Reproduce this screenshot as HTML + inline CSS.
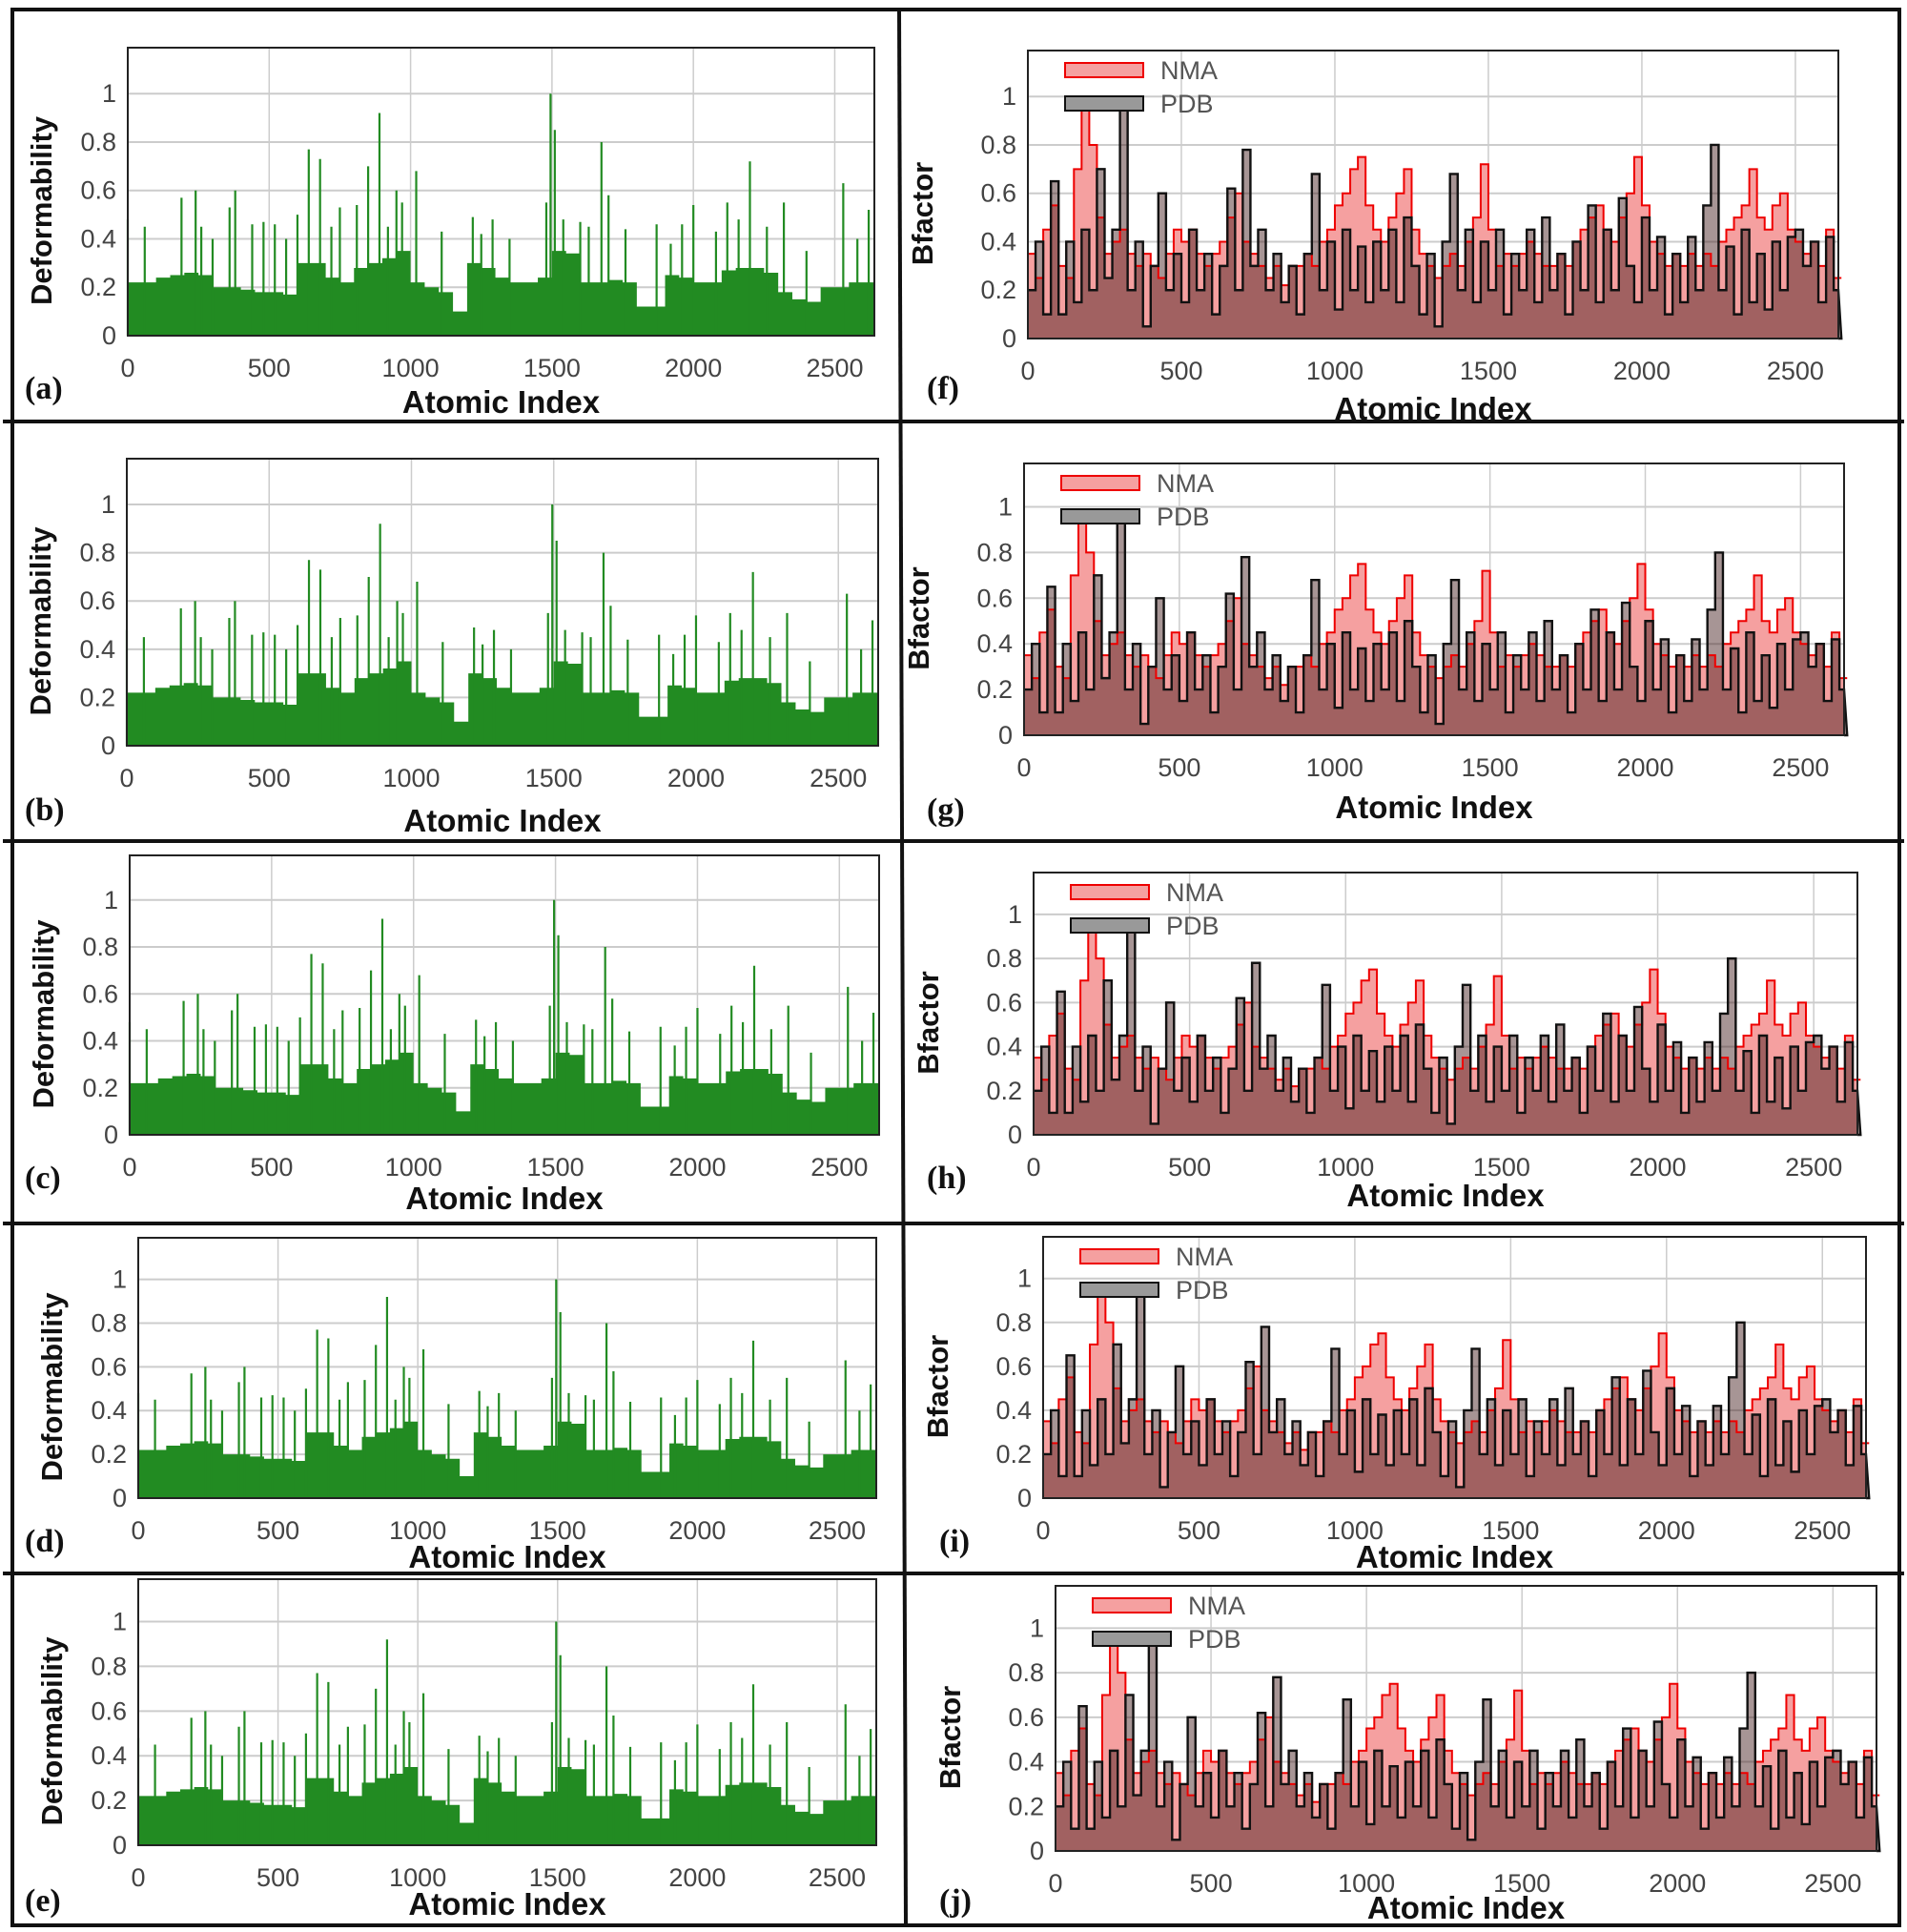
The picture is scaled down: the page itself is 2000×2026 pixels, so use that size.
<!DOCTYPE html>
<html><head><meta charset="utf-8"><style>
html,body{margin:0;padding:0;background:#fff;}
svg{display:block;}
</style></head><body>
<svg id="fig" width="2000" height="2026" viewBox="0 0 2000 2026" xmlns="http://www.w3.org/2000/svg"></svg>
<script>
// ---- data ----
const xTicks=[0,500,1000,1500,2000,2500];
const yTicks=[0,0.2,0.4,0.6,0.8,1];
const yTickLabels=["0","0.2","0.4","0.6","0.8","1"];
const deformBaseStep=50;
const deformBase=[0.22,0.22,0.24,0.25,0.26,0.25,0.2,0.2,0.19,0.18,0.18,0.17,0.3,0.3,0.24,0.22,0.28,0.3,0.32,0.35,0.22,0.2,0.18,0.1,0.3,0.28,0.24,0.22,0.22,0.24,0.35,0.34,0.22,0.22,0.23,0.22,0.12,0.12,0.25,0.24,0.22,0.22,0.27,0.28,0.28,0.26,0.18,0.15,0.14,0.2,0.2,0.22,0.22,0.22];
const spikeIdx=[0,60,190,240,260,300,360,380,440,480,520,560,600,640,680,720,750,810,850,890,920,950,970,1020,1110,1220,1250,1290,1350,1480,1495,1510,1540,1600,1630,1675,1700,1760,1870,1920,1960,2000,2080,2120,2160,2200,2260,2320,2400,2530,2580,2620];
const spikeVal=[0.48,0.45,0.57,0.6,0.45,0.4,0.53,0.6,0.46,0.47,0.46,0.4,0.5,0.77,0.73,0.45,0.53,0.54,0.7,0.92,0.45,0.6,0.55,0.68,0.43,0.49,0.42,0.48,0.4,0.55,1.0,0.85,0.48,0.47,0.45,0.8,0.58,0.44,0.46,0.38,0.46,0.54,0.43,0.55,0.48,0.72,0.45,0.55,0.35,0.63,0.4,0.52];
const bStep=25;
const nma=[0.35,0.25,0.45,0.55,0.3,0.25,0.7,0.95,0.8,0.5,0.35,0.4,0.45,0.35,0.3,0.35,0.3,0.25,0.35,0.45,0.4,0.45,0.35,0.3,0.35,0.4,0.5,0.6,0.4,0.35,0.3,0.25,0.3,0.22,0.3,0.3,0.35,0.3,0.4,0.45,0.55,0.6,0.7,0.75,0.55,0.45,0.4,0.5,0.6,0.7,0.45,0.35,0.3,0.25,0.3,0.35,0.3,0.4,0.5,0.72,0.45,0.3,0.35,0.3,0.35,0.4,0.35,0.3,0.3,0.35,0.3,0.4,0.45,0.5,0.55,0.45,0.4,0.5,0.6,0.75,0.55,0.4,0.35,0.3,0.35,0.3,0.35,0.3,0.35,0.3,0.4,0.45,0.5,0.55,0.7,0.5,0.45,0.55,0.6,0.45,0.4,0.35,0.4,0.3,0.45,0.25,0.25];
const pdb=[0.2,0.4,0.1,0.65,0.1,0.4,0.15,0.45,0.2,0.7,0.25,0.45,0.98,0.2,0.4,0.05,0.3,0.6,0.2,0.35,0.15,0.45,0.2,0.35,0.1,0.3,0.62,0.2,0.78,0.3,0.45,0.2,0.35,0.15,0.3,0.1,0.35,0.68,0.2,0.4,0.12,0.45,0.2,0.38,0.15,0.4,0.2,0.45,0.15,0.5,0.3,0.1,0.35,0.05,0.4,0.68,0.2,0.45,0.15,0.4,0.2,0.45,0.1,0.35,0.2,0.45,0.15,0.5,0.2,0.35,0.1,0.4,0.2,0.55,0.15,0.45,0.2,0.58,0.3,0.15,0.5,0.2,0.42,0.1,0.35,0.15,0.42,0.2,0.55,0.8,0.2,0.38,0.1,0.45,0.15,0.35,0.12,0.4,0.2,0.42,0.45,0.3,0.4,0.15,0.42,0.2,0.0];

// panel geometry
const leftPanels=[
 {id:"a",x0:134,x1:917,y0:50,y1:352,lx:26,ly:418,xt:433},
 {id:"b",x0:133,x1:921,y0:481,y1:782,lx:26,ly:860,xt:872},
 {id:"c",x0:136,x1:922,y0:897,y1:1190,lx:26,ly:1246,xt:1268},
 {id:"d",x0:145,x1:919,y0:1298,y1:1571,lx:26,ly:1627,xt:1644},
 {id:"e",x0:145,x1:919,y0:1656,y1:1935,lx:26,ly:2004,xt:2008}];
const rightPanels=[
 {id:"f",x0:1078,x1:1928,y0:53,y1:355,lx:972,ly:418,xt:440},
 {id:"g",x0:1074,x1:1934,y0:486,y1:771,lx:972,ly:860,xt:858},
 {id:"h",x0:1084,x1:1948,y0:915,y1:1190,lx:972,ly:1246,xt:1265},
 {id:"i",x0:1094,x1:1957,y0:1297,y1:1571,lx:985,ly:1627,xt:1644},
 {id:"j",x0:1107,x1:1968,y0:1663,y1:1941,lx:985,ly:2004,xt:2012}];
const XMAX=2640, YMAX=1.19;
const NS="http://www.w3.org/2000/svg";
const svg=document.getElementById('fig');
function el(tag,attrs,parent,text){const e=document.createElementNS(NS,tag);for(const k in attrs)e.setAttribute(k,attrs[k]);if(text!==undefined)e.textContent=text;(parent||svg).appendChild(e);return e;}

const frame=el('g',{},svg);


el('rect',{x:13,y:10,width:1979,height:2009,fill:'none',stroke:'#111','stroke-width':4},frame);
el('line',{x1:943,y1:10,x2:950,y2:2019,stroke:'#111','stroke-width':4},frame);
[442,882,1283,1650].forEach(y=>el('line',{x1:3,y1:y,x2:1997,y2:y,stroke:'#111','stroke-width':4},frame));

function axes(p,g,ylab,yoff){
  const sx=v=>p.x0+(p.x1-p.x0)*v/XMAX;
  const sy=v=>p.y1-(p.y1-p.y0)*v/YMAX;
  const grid=el('g',{},g);
  
  
  xTicks.forEach(t=>el('line',{x1:sx(t),x2:sx(t),y1:p.y0,y2:p.y1,stroke:'#ccc','stroke-width':1.5},grid));
  yTicks.forEach(t=>el('line',{x1:p.x0,x2:p.x1,y1:sy(t),y2:sy(t),stroke:'#ccc','stroke-width':2},grid));
  const xt=el('g',{'font-family':'Liberation Sans, sans-serif','font-size':27,fill:'#444','text-anchor':'middle'},g);
  
  
  xTicks.forEach(t=>el('text',{x:sx(t),y:p.y1+43},xt,String(t)));
  const yt=el('g',{'font-family':'Liberation Sans, sans-serif','font-size':27,fill:'#444','text-anchor':'end'},g);
  
  
  yTicks.forEach((t,i)=>el('text',{x:p.x0-12,y:sy(t)+9},yt,yTickLabels[i]));
  const xl=el('text',{x:(p.x0+p.x1)/2,y:p.xt,'font-family':'Liberation Sans, sans-serif','font-size':33,'font-weight':'bold','text-anchor':'middle',fill:'#111'},g,'Atomic Index');
  
  
  const cy=(p.y0+p.y1)/2+20, cx=p.x0-yoff;
  const yl=el('text',{x:cx,y:cy,transform:`rotate(-90 ${cx} ${cy})`,'font-family':'Liberation Sans, sans-serif','font-size':31,'font-weight':'bold','text-anchor':'middle',fill:'#111'},g,ylab);
  
  
  const pl=el('text',{x:p.lx,y:p.ly,'font-family':'Liberation Serif, serif','font-size':34,'font-weight':'bold',fill:'#111'},g,'('+p.id+')');
  
  
  return {sx,sy};
}

leftPanels.forEach(p=>{
  const g=el('g',{},svg);
  
  
  const {sx,sy}=axes(p,g,'Deformability',80);
  let d=`M${sx(0)},${sy(0)}`;
  deformBase.forEach((v,i)=>{const a=i*deformBaseStep,b=Math.min(XMAX,a+deformBaseStep);d+=`L${sx(a)},${sy(v)}L${sx(b)},${sy(v)}`;});
  d+=`L${sx(XMAX)},${sy(0)}Z`;
  const area=el('path',{d,fill:'#228b22'},g);
  
  
  spikeIdx.forEach((x,i)=>{
    const s=el('line',{x1:sx(x),x2:sx(x),y1:sy(0),y2:sy(spikeVal[i]),stroke:'#228b22','stroke-width':2.2},g);
    
    
  });
  el('rect',{x:p.x0,y:p.y0,width:p.x1-p.x0,height:p.y1-p.y0,fill:'none',stroke:'#222','stroke-width':2},g);
});

rightPanels.forEach(p=>{
  const g=el('g',{},svg);
  
  
  const {sx,sy}=axes(p,g,'Bfactor',100);
  function stepPath(arr){let d='';arr.forEach((v,i)=>{const a=i*bStep,b=Math.min(XMAX,a+bStep);d+=(i?'L':'M')+`${sx(a)},${sy(v)}L${sx(b)},${sy(v)}`;});return d;}
  const nl=stepPath(nma), pl=stepPath(pdb);
  const na=el('path',{d:`M${sx(0)},${sy(0)}`+nl.replace(/^M/,'L')+`L${sx(XMAX)},${sy(0)}Z`,fill:'#f5a0a0'},g);
  
  
  const pa=el('path',{d:`M${sx(0)},${sy(0)}`+pl.replace(/^M/,'L')+`L${sx(XMAX)},${sy(0)}Z`,fill:'rgba(60,20,20,0.45)'},g);
  
  
  const nln=el('path',{d:nl,fill:'none',stroke:'#e00','stroke-width':2},g);
  
  
  const pln=el('path',{d:pl,fill:'none',stroke:'#111','stroke-width':2.4},g);
  
  
  el('rect',{x:p.x0,y:p.y0,width:p.x1-p.x0,height:p.y1-p.y0,fill:'none',stroke:'#222','stroke-width':2},g);
  const lg=el('g',{},g);
  
  
  const lx=p.x0+39, ly=p.y0+13;
  el('rect',{x:lx,y:ly,width:82,height:15,fill:'#f5a0a0',stroke:'#e00','stroke-width':2},lg);
  el('text',{x:lx+100,y:ly+17,'font-family':'Liberation Sans, sans-serif','font-size':27,fill:'#555'},lg,'NMA');
  el('rect',{x:lx,y:ly+35,width:82,height:15,fill:'#999',stroke:'#111','stroke-width':2},lg);
  el('text',{x:lx+100,y:ly+52,'font-family':'Liberation Sans, sans-serif','font-size':27,fill:'#555'},lg,'PDB');
});
</script>
</body></html>
